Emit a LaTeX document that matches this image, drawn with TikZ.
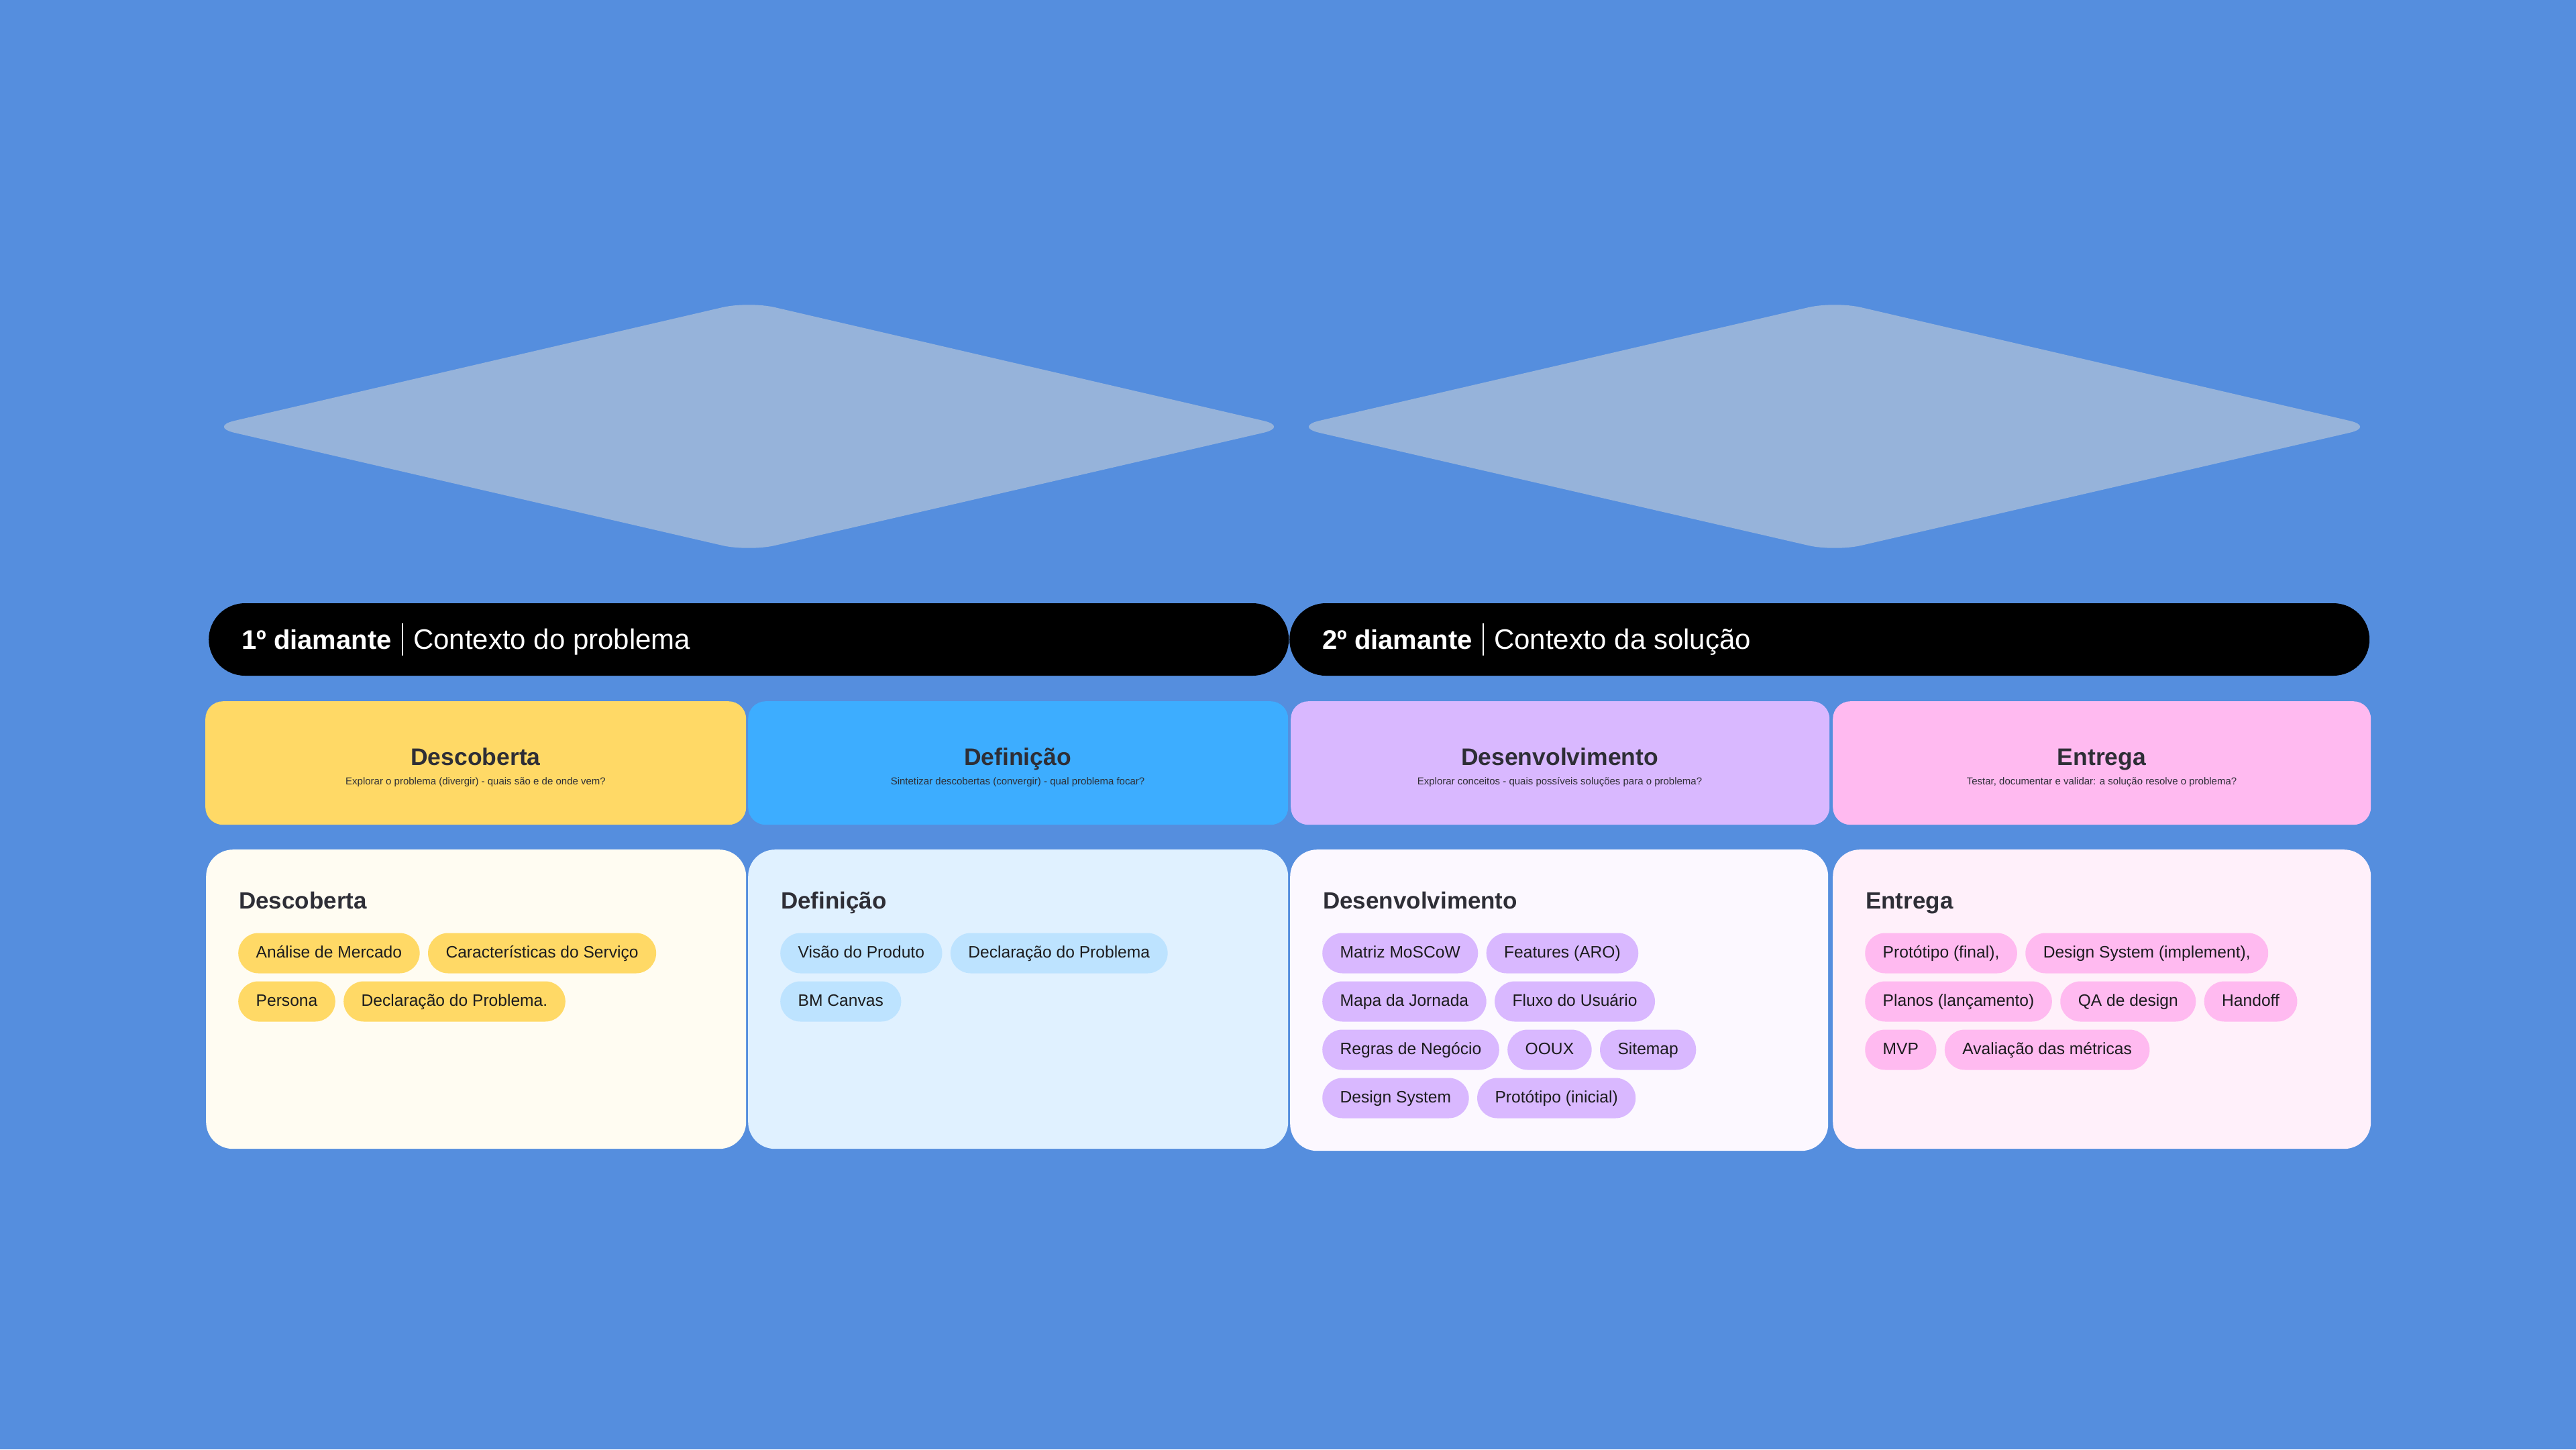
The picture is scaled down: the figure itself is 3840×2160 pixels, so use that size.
\documentclass[tikz,border=0pt]{standalone}
\usepackage{fontspec}
\setmainfont{Liberation Sans}
\usetikzlibrary{positioning}
\definecolor{bg}{RGB}{85,142,222}
\definecolor{dia}{RGB}{150,179,218}
\definecolor{yel}{RGB}{255,217,102}
\definecolor{blu}{RGB}{61,173,255}
\definecolor{pur}{RGB}{217,184,255}
\definecolor{pnk}{RGB}{255,186,240}
\definecolor{yelbg}{RGB}{255,252,242}
\definecolor{blubg}{RGB}{224,241,255}
\definecolor{purbg}{RGB}{252,248,255}
\definecolor{pnkbg}{RGB}{255,240,250}
\definecolor{bluchip}{RGB}{189,227,255}
\definecolor{ttl}{RGB}{46,46,54}
\definecolor{chiptxt}{RGB}{28,28,30}
\tikzset{
  diamondshape/.style={fill=dia, rounded corners=40pt},
  barbox/.style={fill=black, rounded corners=54pt, minimum width=1610pt, minimum height=108pt, inner sep=0pt, anchor=west},
  bartxtb/.style={text=white, font=\bfseries\fontsize{40}{44}\selectfont, inner sep=0pt, anchor=base west},
  bartxt/.style={text=white, font=\fontsize{42}{46}\selectfont, inner sep=0pt, anchor=base west},
  barsep/.style={draw=white, line width=2.5pt},
  hdrcard/.style={rounded corners=26pt, minimum width=806pt, minimum height=184pt, inner sep=0pt, anchor=north west},
  hdrtitle/.style={text=ttl, font=\bfseries\fontsize{35.5}{40}\selectfont, inner sep=0pt, anchor=base},
  hdrsub/.style={text=ttl, font=\fontsize{15}{17}\selectfont, inner sep=0pt, anchor=base},
  bodycard/.style={rounded corners=40pt, minimum width=805pt, minimum height=446pt, inner sep=0pt, anchor=north west},
  bodytitle/.style={text=ttl, font=\bfseries\fontsize{35}{40}\selectfont, inner sep=0pt, anchor=base west},
  chip/.style={rounded corners=30pt, minimum height=60pt, inner xsep=26.5pt, inner ysep=0pt,
    text height=18pt, text depth=5pt, text=chiptxt, font=\fontsize{24.6}{28}\selectfont},
  firstchip/.style={chip, anchor=west},
  nextchip/.style={chip, right=12pt of #1},
}
\begin{document}
\begin{tikzpicture}[x=1pt, y=-1pt]
\fill[bg] (0,0) rectangle (3840,2160);
\useasboundingbox (0,0) rectangle (3840,2160);

% diamonds
\fill[diamondshape] (311,636) -- (1116,449) -- (1922,636) -- (1116,822) -- cycle;
\fill[diamondshape] (1928,636) -- (2735,449) -- (3541,636) -- (2735,822) -- cycle;

% bars
\node[barbox] (bar1) at (311,953) {};
\node[barbox] (bar2) at (1922,953) {};
\node[bartxtb] (b1a) at (360,967) {1º diamante};
\draw[barsep] ([xshift=16pt,yshift=38pt]b1a.base east) -- ([xshift=16pt,yshift=-10pt]b1a.base east);
\node[bartxt] (b1b) at ([xshift=32pt]b1a.base east) {Contexto do problema};
\node[bartxtb] (b2a) at (1971,967) {2º diamante};
\draw[barsep] ([xshift=16pt,yshift=38pt]b2a.base east) -- ([xshift=16pt,yshift=-10pt]b2a.base east);
\node[bartxt] (b2b) at ([xshift=32pt]b2a.base east) {Contexto da solução};

% header cards
\node[hdrcard, fill=yel, minimum width=806pt] (h1) at (306,1045) {};
\node[hdrcard, fill=blu, minimum width=805pt] (h2) at (1115,1045) {};
\node[hdrcard, fill=pur, minimum width=803pt] (h3) at (1924,1045) {};
\node[hdrcard, fill=pnk, minimum width=802pt] (h4) at (2732,1045) {};
\node[hdrtitle] (h1t) at (709,1140) {Descoberta};
\node[hdrsub] (h1s) at (709,1169) {Explorar o problema (divergir) - quais são e de onde vem?};
\node[hdrtitle] (h2t) at (1517,1140) {Definição};
\node[hdrsub] (h2s) at (1517,1169) {Sintetizar descobertas (convergir) - qual problema focar?};
\node[hdrtitle] (h3t) at (2325,1140) {Desenvolvimento};
\node[hdrsub] (h3s) at (2325,1169) {Explorar conceitos - quais possíveis soluções para o problema?};
\node[hdrtitle] (h4t) at (3133,1140) {Entrega};
\node[hdrsub] (h4s) at (3133,1169) {Testar, documentar e validar: a solução resolve o problema?};

% body cards
\node[bodycard, fill=yelbg, minimum width=805pt] (c1) at (307,1266) {};
\node[bodycard, fill=blubg, minimum width=805pt] (c2) at (1115,1266) {};
\node[bodycard, fill=purbg, minimum width=802pt, minimum height=449pt] (c3) at (1923,1266) {};
\node[bodycard, fill=pnkbg, minimum width=802pt] (c4) at (2732,1266) {};

\node[bodytitle] (c1t) at (356,1354) {Descoberta};
\node[bodytitle] (c2t) at (1164,1354) {Definição};
\node[bodytitle] (c3t) at (1972,1354) {Desenvolvimento};
\node[bodytitle] (c4t) at (2781,1354) {Entrega};

% card 1 chips
\node[firstchip, fill=yel] (a1) at (355,1420.5) {Análise de Mercado};
\node[nextchip=a1, fill=yel] (a2) {Características do Serviço};
\node[firstchip, fill=yel] (a3) at (355,1492.5) {Persona};
\node[nextchip=a3, fill=yel] (a4) {Declaração do Problema.};

% card 2 chips
\node[firstchip, fill=bluchip] (d1) at (1163,1420.5) {Visão do Produto};
\node[nextchip=d1, fill=bluchip] (d2) {Declaração do Problema};
\node[firstchip, fill=bluchip] (d3) at (1163,1492.5) {BM Canvas};

% card 3 chips
\node[firstchip, fill=pur] (e1) at (1971,1420.5) {Matriz MoSCoW};
\node[nextchip=e1, fill=pur] (e2) {Features (ARO)};
\node[firstchip, fill=pur] (e3) at (1971,1492.5) {Mapa da Jornada};
\node[nextchip=e3, fill=pur] (e4) {Fluxo do Usuário};
\node[firstchip, fill=pur] (e5) at (1971,1564.5) {Regras de Negócio};
\node[nextchip=e5, fill=pur] (e6) {OOUX};
\node[nextchip=e6, fill=pur] (e7) {Sitemap};
\node[firstchip, fill=pur] (e8) at (1971,1636.5) {Design System};
\node[nextchip=e8, fill=pur] (e9) {Protótipo (inicial)};

% card 4 chips
\node[firstchip, fill=pnk] (f1) at (2780,1420.5) {Protótipo (final),};
\node[nextchip=f1, fill=pnk] (f2) {Design System (implement),};
\node[firstchip, fill=pnk] (f3) at (2780,1492.5) {Planos (lançamento)};
\node[nextchip=f3, fill=pnk] (f4) {QA de design};
\node[nextchip=f4, fill=pnk] (f5) {Handoff};
\node[firstchip, fill=pnk] (f6) at (2780,1564.5) {MVP};
\node[nextchip=f6, fill=pnk] (f7) {Avaliação das métricas};
\end{tikzpicture}
\end{document}
